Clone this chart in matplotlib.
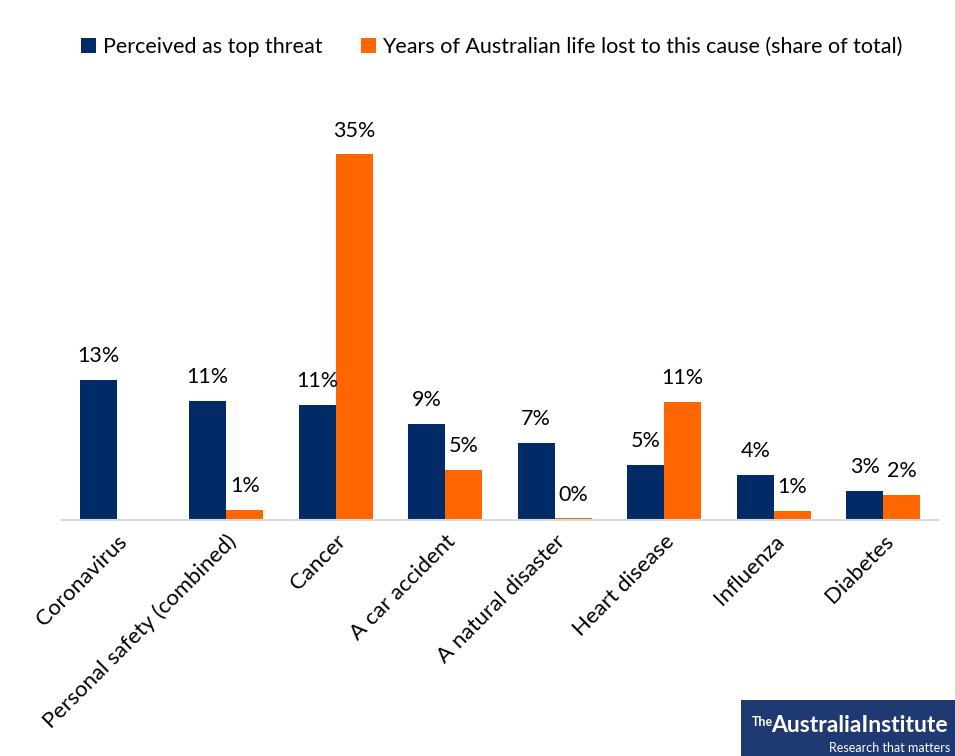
import matplotlib
matplotlib.use("Agg")
import matplotlib.pyplot as plt
import numpy as np
from matplotlib.patches import Rectangle

categories = ["Coronavirus", "Personal safety (combined)", "Cancer", "A car accident",
              "A natural disaster", "Heart disease", "Influenza", "Diabetes"]
perceived = [13.4, 11.4, 11.0, 9.2, 7.4, 5.3, 4.3, 2.8]
years_lost = [None, 1.0, 35.0, 4.8, 0.15, 11.3, 0.9, 2.4]
series_names = ["Perceived as top threat", "Years of Australian life lost to this cause (share of total)"]

NAVY = "#002B66"
ORANGE = "#FF6600"
plt.rcParams['font.family'] = ['Lato', 'DejaVu Sans']

fig = plt.figure(figsize=(9.55, 7.56), dpi=100)
ax = fig.add_axes([62/955, 236/756, 876/955, 418/756])

x = np.arange(len(categories))
w = 0.338
nav_vals = perceived
org_vals = [v if v is not None else 0 for v in years_lost]
b1 = ax.bar(x - w/2, nav_vals, w, color=NAVY, label=series_names[0])
b2 = ax.bar(x + w/2, org_vals, w, color=ORANGE, label=series_names[1])

for xi, v in zip(x, perceived):
    ax.text(xi - w/2, v + 1.3, f"{round(v)}%", ha="center", va="bottom", fontsize=15.5)
for xi, v in zip(x, years_lost):
    if v is None:
        continue
    ax.text(xi + w/2, v + 1.3, f"{round(v)}%", ha="center", va="bottom", fontsize=15.5)

ax.set_xlim(-0.5, len(categories) - 0.5)
ax.set_ylim(0, 40)
ax.set_yticks([])
for s in ["top", "right", "left"]:
    ax.spines[s].set_visible(False)
ax.spines["bottom"].set_color("#D9D9D9")
ax.spines["bottom"].set_linewidth(1.5)
ax.set_xticks(x)
ax.set_xticklabels(categories, rotation=45, ha="right", rotation_mode="anchor", fontsize=16)
ax.tick_params(axis="x", length=0, pad=8)

leg = fig.legend(handles=[b1, b2], loc="center", bbox_to_anchor=(492/955, 1 - 47/756),
                 ncol=2, frameon=False, fontsize=15.5, handlelength=0.7, handleheight=0.7,
                 handletextpad=0.3, columnspacing=1.8)

# logo
fig.patches.append(Rectangle((741/955, 0), 214/955, 56/756, transform=fig.transFigure,
                             facecolor="#1F3A73", edgecolor="none"))
fig.text(752/955, 1 - 722/756, "The", color="white", fontsize=9, va="center", ha="left",
         fontweight="bold")
fig.text(771/955, 1 - 726/756, "AustraliaInstitute", color="white", fontsize=16.5,
         va="center", ha="left", fontweight="bold")
fig.text(950/955, 1 - 748/756, "Research that matters", color="white", fontsize=9,
         va="center", ha="right")

fig.savefig("out.png", dpi=100)
